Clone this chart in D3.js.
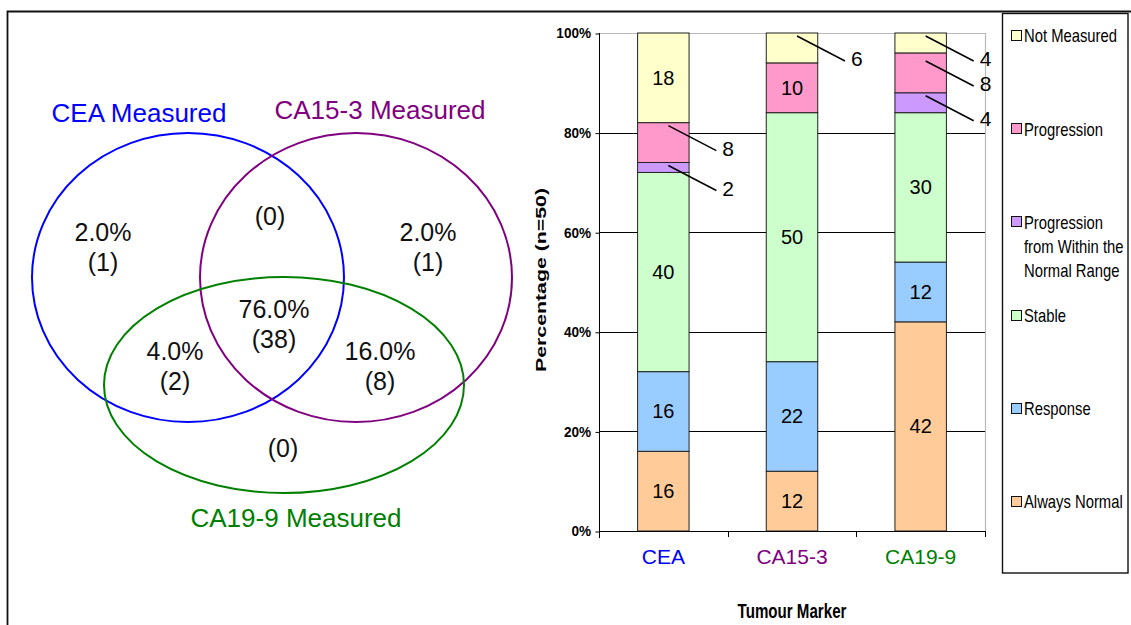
<!DOCTYPE html>
<html>
<head>
<meta charset="utf-8">
<script src="https://cdn.jsdelivr.net/npm/d3@7"></script>
<style>
  body { margin: 0; background: #fff; }
  svg { display: block; font-family: "Liberation Sans", Arial, sans-serif; }
</style>
</head>
<body>
<svg id="chart" width="1131" height="625"></svg>
<script>
// ---- data ----
const markers = ["CEA", "CA15-3", "CA19-9"];
const markerColors = ["#0000FF", "#800080", "#008000"];

const statuses = [
  "Always Normal",
  "Response",
  "Stable",
  "Progression from Within the Normal Range",
  "Progression",
  "Not Measured",
];
const statusColors = ["#FFCC99", "#99CCFF", "#CCFFCC", "#CC99FF", "#FF99CC", "#FFFFCC"];

const alwaysNormal = [16, 12, 42];
const response = [16, 22, 12];
const stable = [40, 50, 30];
const progWithinNormal = [2, 0, 4];
const progression = [8, 10, 8];
const notMeasured = [18, 6, 4];

const yTicks = [0, 20, 40, 60, 80, 100];

const vennSets = ["CEA Measured", "CA15-3 Measured", "CA19-9 Measured"];
// regions: CEA only, CEA+CA15-3, CA15-3 only, CEA+CA19-9, all three, CA15-3+CA19-9, CA19-9 only
const vennCounts = [1, 0, 1, 2, 38, 8, 0];
const vennTotal = 50;

// ---- setup ----
const svg = d3.select("#chart");
const W = 1131, H = 625;

svg.append("rect").attr("width", W).attr("height", H).attr("fill", "#fff");

// outer frame (top + left edges visible)
svg.append("path")
  .attr("d", `M7.5,${H} V11.5 H${W}`)
  .attr("fill", "none")
  .attr("stroke", "#111")
  .attr("stroke-width", 1.8);

// text helper: horizontally squeezed text, as in the pasted chart
const label = (parent, x, y, str, opts) => {
  const g = parent.append("g")
    .attr("transform", `translate(${x},${y}) scale(${opts.sx || 1},1)`);
  return g.append("text")
    .attr("text-anchor", opts.anchor || "middle")
    .attr("dy", "0.35em")
    .attr("font-size", opts.size)
    .attr("font-weight", opts.bold ? "bold" : "normal")
    .attr("fill", opts.fill || "#000")
    .text(str);
};

// ---- venn diagram ----
// layout of the three ellipses, in page pixels
const vennShapes = [
  { cx: 188, cy: 277.5, rx: 156, ry: 144.5, lx: 139, ly: 113 },
  { cx: 356, cy: 277.5, rx: 156, ry: 144.5, lx: 380, ly: 110 },
  { cx: 284, cy: 385, rx: 180, ry: 108, lx: 296, ly: 518 },
];
const vennLabelPos = [
  [103, 232], [270, 216], [428, 232], [175, 351], [274, 309], [380, 351], [283, 448],
];

const venn = svg.append("g").attr("class", "venn");

venn.selectAll("ellipse")
  .data(vennShapes)
  .enter()
  .append("ellipse")
  .attr("cx", (d) => d.cx)
  .attr("cy", (d) => d.cy)
  .attr("rx", (d) => d.rx)
  .attr("ry", (d) => d.ry)
  .attr("fill", "none")
  .attr("stroke", (d, i) => markerColors[i])
  .attr("stroke-width", 2);

vennShapes.forEach((d, i) => {
  label(venn, d.lx, d.ly, vennSets[i], { size: 26, fill: markerColors[i] });
});

const pctFormat = d3.format(".1f");
vennCounts.forEach((n, i) => {
  const [x, y] = vennLabelPos[i];
  const lines = n > 0 ? [pctFormat((n / vennTotal) * 100) + "%", `(${n})`] : [`(${n})`];
  lines.forEach((s, j) => label(venn, x, y + j * 30.5, s, { size: 25, fill: "#111" }));
});

// ---- stacked bar chart ----
const plot = { left: 599, right: 985, top: 33, bottom: 531 };

const x = d3.scaleBand()
  .domain(markers)
  .range([plot.left, plot.right])
  .paddingInner(0.6)
  .paddingOuter(0.3);

const y = d3.scaleLinear().domain([0, 100]).range([plot.bottom, plot.top]);

const color = d3.scaleOrdinal().domain(statuses).range(statusColors);

const seriesValues = [alwaysNormal, response, stable, progWithinNormal, progression, notMeasured];
const rows = markers.map((m, i) => {
  const r = { marker: m };
  statuses.forEach((s, k) => (r[s] = seriesValues[k][i]));
  return r;
});
const stacked = d3.stack().keys(statuses)(rows);

const chart = svg.append("g").attr("class", "bar-chart");

// plot area border (grey) on top and right
chart.append("path")
  .attr("d", `M${plot.left},${y(100) + 0.5} H${plot.right + 0.5} V${plot.bottom}`)
  .attr("fill", "none")
  .attr("stroke", "#b8b8b8")
  .attr("stroke-width", 1.2);

// gridlines
chart.append("g")
  .selectAll("line")
  .data(yTicks.filter((t) => t > 0 && t < 100))
  .enter()
  .append("line")
  .attr("x1", plot.left)
  .attr("x2", plot.right)
  .attr("y1", (d) => Math.round(y(d)) + 0.5)
  .attr("y2", (d) => Math.round(y(d)) + 0.5)
  .attr("stroke", "#000")
  .attr("stroke-width", 1);

// y axis
const yAxis = chart.append("g")
  .attr("transform", `translate(${plot.left + 0.5},0.5)`)
  .call(d3.axisLeft(y).tickValues(yTicks).tickSize(4).tickFormat((d) => d + "%"));
yAxis.select(".domain").remove();
yAxis.selectAll(".tick text").remove();
yAxis.selectAll(".tick line").attr("stroke", "#000");
chart.append("line")
  .attr("x1", plot.left + 0.5).attr("x2", plot.left + 0.5)
  .attr("y1", plot.top).attr("y2", plot.bottom + 7)
  .attr("stroke", "#000");

yTicks.forEach((t) => {
  label(chart, 591, y(t), t + "%", { size: 15.4, bold: true, sx: 0.88, anchor: "end" });
});

// bars
const layer = chart.append("g")
  .selectAll("g")
  .data(stacked)
  .enter()
  .append("g")
  .attr("fill", (d) => color(d.key));

layer.selectAll("rect")
  .data((d) => d.filter((p) => p[1] - p[0] > 0))
  .enter()
  .append("rect")
  .attr("x", (p) => x(p.data.marker))
  .attr("y", (p) => y(p[1]))
  .attr("width", x.bandwidth())
  .attr("height", (p) => y(p[0]) - y(p[1]))
  .attr("stroke", "#222")
  .attr("stroke-width", 1);

// x axis line + category ticks between bands
chart.append("line")
  .attr("x1", plot.left).attr("x2", plot.right + 1)
  .attr("y1", plot.bottom + 0.5).attr("y2", plot.bottom + 0.5)
  .attr("stroke", "#000");
const bounds = d3.range(1, markers.length + 1).map((i) => plot.left + i * x.step());
chart.append("g")
  .selectAll("line")
  .data(bounds)
  .enter()
  .append("line")
  .attr("x1", (d) => Math.round(d) + 0.5)
  .attr("x2", (d) => Math.round(d) + 0.5)
  .attr("y1", plot.bottom)
  .attr("y2", plot.bottom + 6)
  .attr("stroke", "#000");

// value labels: inside for large segments, callouts for small ones
const callouts = [];
stacked.forEach((s) => {
  s.forEach((p) => {
    const v = p[1] - p[0];
    if (v <= 0) return;
    const cx = x(p.data.marker) + x.bandwidth() / 2;
    if (v >= 10) {
      label(chart, cx, y((p[0] + p[1]) / 2), v, { size: 20 });
    } else {
      callouts.push({ marker: p.data.marker, v, x0: cx + 5, y0: y(p[1]) + 3 });
    }
  });
});

// keep callout labels of one bar from crowding each other
d3.group(callouts, (c) => c.marker).forEach((list) => {
  list.sort((a, b) => a.y0 - b.y0);
  let prev = -Infinity;
  list.forEach((c) => {
    if (c.y0 < prev + 25) c.y0 = prev + 25;
    prev = c.y0;
  });
});

callouts.forEach((c) => {
  const x1 = c.x0 + 48, y1 = c.y0 + 25;
  chart.append("line")
    .attr("x1", c.x0).attr("y1", c.y0)
    .attr("x2", x1).attr("y2", y1)
    .attr("stroke", "#000")
    .attr("stroke-width", 1.5);
  label(chart, x1 + 6, y1 - 2, c.v, { size: 21, anchor: "start" });
});

// category labels
markers.forEach((m, i) => {
  label(chart, x(m) + x.bandwidth() / 2, 557, m, { size: 21, fill: markerColors[i] });
});

// axis titles
label(chart, 792, 611, "Tumour Marker", { size: 21, bold: true, sx: 0.72 });
chart.append("g")
  .attr("transform", `translate(541,280) rotate(-90) scale(1.47,1)`)
  .append("text")
  .attr("text-anchor", "middle")
  .attr("dy", "0.35em")
  .attr("font-size", 14.5)
  .attr("font-weight", "bold")
  .text("Percentage (n=50)");

// ---- legend ----
const legendLines = [
  ["Not Measured"],
  ["Progression"],
  ["Progression", "from Within the", "Normal Range"],
  ["Stable"],
  ["Response"],
  ["Always Normal"],
];
const legendKeys = statuses.slice().reverse();

const legend = svg.append("g").attr("class", "legend");
legend.append("rect")
  .attr("x", 1002.5).attr("y", 13.5)
  .attr("width", 125.5).attr("height", 559.5)
  .attr("fill", "#fff")
  .attr("stroke", "#111")
  .attr("stroke-width", 1.4);

const ly = d3.scaleLinear().domain([0, legendKeys.length - 1]).range([36, 502]);

legendKeys.forEach((k, i) => {
  const yy = ly(i);
  legend.append("rect")
    .attr("x", 1011.5).attr("y", Math.round(yy) - 5.5)
    .attr("width", 10).attr("height", 10)
    .attr("fill", color(k))
    .attr("stroke", "#111")
    .attr("stroke-width", 1);
  legendLines[i].forEach((s, j) => {
    label(legend, 1024, yy + j * 24, s, { size: 18.5, sx: 0.8, anchor: "start" });
  });
});
</script>
</body>
</html>
